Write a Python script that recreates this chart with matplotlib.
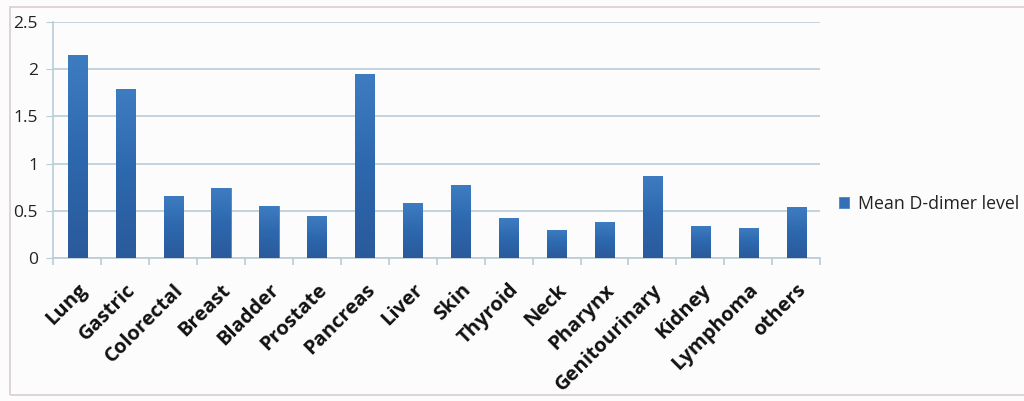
import numpy as np
import matplotlib
matplotlib.use("Agg")
from matplotlib import pyplot as plt
from matplotlib.patches import Rectangle

# tumour sites and mean D-dimer values
sites = ['Lung', 'Gastric', 'Colorectal', 'Breast', 'Bladder', 'Prostate',
         'Pancreas', 'Liver', 'Skin', 'Thyroid', 'Neck', 'Pharynx',
         'Genitourinary', 'Kidney', 'Lymphoma', 'others']
mean_ddimer = [2.15, 1.79, 0.66, 0.74, 0.55, 0.44, 1.95, 0.58,
               0.77, 0.42, 0.30, 0.38, 0.87, 0.34, 0.32, 0.54]
yticks = [0, 0.5, 1, 1.5, 2, 2.5]
ytick_labels = ['0', '0.5', '1', '1.5', '2', '2.5']

grid_col = '#B9CDD6'
fig = plt.figure(figsize=(10.24, 4.01), dpi=100)
fig.patch.set_facecolor('#FCFCFD')
# outer frame of the chart area
fig.patches.append(Rectangle((10 / 1024, 6 / 401), 1.02, 1 - 13 / 401,
                             transform=fig.transFigure, fill=False,
                             edgecolor='#D9CFCB', linewidth=1.2))

ax = fig.add_axes([0.052, 0.357, 0.749, 0.588])
ax.set_facecolor('none')
x = np.arange(len(sites))
bars = ax.bar(x, mean_ddimer, width=0.4, color='#3370B6',
              edgecolor='#4C86C8', linewidth=0.6, zorder=3,
              label='Mean D-dimer level')

# vertical gradient inside each bar
grad = np.linspace(0, 1, 256).reshape(-1, 1)
cmap = matplotlib.colors.LinearSegmentedColormap.from_list(
    'bar', ['#2A5A9B', '#2D68AE', '#3E7CC2'])
for b in bars:
    im = ax.imshow(grad, cmap=cmap, aspect='auto', origin='lower',
                   extent=[b.get_x(), b.get_x() + b.get_width(), 0, b.get_height()],
                   zorder=3.5)
    im.set_clip_path(b)

ax.set_xlim(-0.5, len(sites) - 0.5)
ax.set_ylim(0, 2.5)
ax.set_yticks(yticks)
ax.set_yticklabels(ytick_labels, fontsize=12.5, family='Open Sans', color='#222222')
ax.yaxis.grid(True, color=grid_col, linewidth=1.2, zorder=0)
ax.tick_params(axis='y', length=5, color=grid_col, pad=6)

ax.set_xticks(x)
ax.set_xticklabels(sites, rotation=45, ha='right', rotation_mode='anchor',
                   fontsize=14.5, fontweight='bold', family='Open Sans',
                   color='#111111')
ax.tick_params(axis='x', which='major', length=0, pad=16)
ax.set_xticks(np.arange(-0.5, len(sites), 1), minor=True)
ax.tick_params(axis='x', which='minor', length=5, color=grid_col, width=1.2)

for s in ['top', 'right']:
    ax.spines[s].set_visible(False)
for s in ['left', 'bottom']:
    ax.spines[s].set_color(grid_col)
    ax.spines[s].set_linewidth(1.2)

leg = ax.legend(loc='center left', bbox_to_anchor=(1.008, 0.23), frameon=False,
                handlelength=0.6, handleheight=0.6, handletextpad=0.5,
                borderaxespad=0.3,
                prop={'family': 'Open Sans', 'size': 12.8})
for t in leg.get_texts():
    t.set_color('#222222')

fig.savefig('out.png', dpi=100, facecolor=fig.get_facecolor())
